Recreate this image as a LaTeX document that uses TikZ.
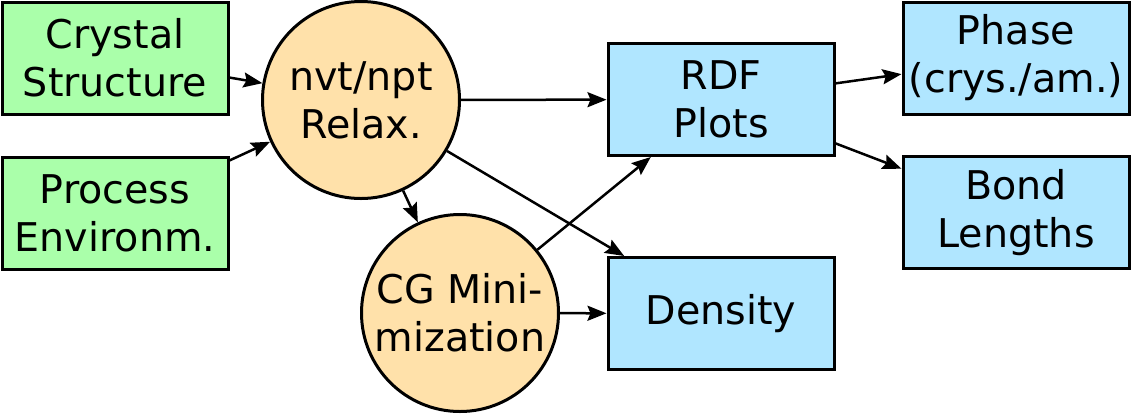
\documentclass[tikz,border=0pt]{standalone}
\usepackage{fontspec}
\setmainfont{DejaVu Sans}
\usetikzlibrary{arrows.meta}
\definecolor{inputgreen}{HTML}{AAFFAA}
\definecolor{simorange}{HTML}{FFE1AA}
\definecolor{outblue}{HTML}{B0E6FF}
\begin{document}
\begin{tikzpicture}[x=0.5pt, y=-0.5pt,
	font=\fontsize{19.8}{24}\selectfont,
	inbox/.style={draw, line width=1.5pt, fill=inputgreen, minimum width=113pt, minimum height=56pt, align=center, inner sep=0pt},
	outbox/.style={draw, line width=1.5pt, fill=outblue, minimum width=113pt, minimum height=56pt, align=center, inner sep=0pt},
	simcircle/.style={draw, line width=1.5pt, fill=simorange, circle, minimum size=98.5pt, align=center, inner sep=0pt},
	flow/.style={-{Stealth[length=9.5pt, width=7.5pt, inset=1.5pt]}, line width=1.25pt}]
	\useasboundingbox (0, 0) rectangle (1131, 414);

	\node[inbox] (crystal) at (115, 58) {Crystal\\Structure};
	\node[inbox] (process) at (115, 213) {Process\\Environm.};
	\node[simcircle] (relax) at (361, 100) {nvt/npt\\Relax.};
	\node[simcircle] (cg) at (460, 313) {CG Mini-\\mization};
	\node[outbox] (rdf) at (721, 99.5) {RDF\\Plots};
	\node[outbox] (density) at (721, 313.5) {Density};
	\node[outbox] (phase) at (1016, 58) {Phase\\(crys./am.)};
	\node[outbox] (bond) at (1016, 212.5) {Bond\\Lengths};

	\draw[flow] (crystal) -- (relax);
	\draw[flow] (process) -- (relax);
	\draw[flow] (relax) -- (rdf);
	\draw[flow] (relax) -- (density);
	\draw[flow] (relax) -- (cg);
	\draw[flow] (cg) -- (rdf);
	\draw[flow] (cg) -- (density);
	\draw[flow] (rdf) -- (phase);
	\draw[flow] (rdf) -- (bond);
\end{tikzpicture}
\end{document}
